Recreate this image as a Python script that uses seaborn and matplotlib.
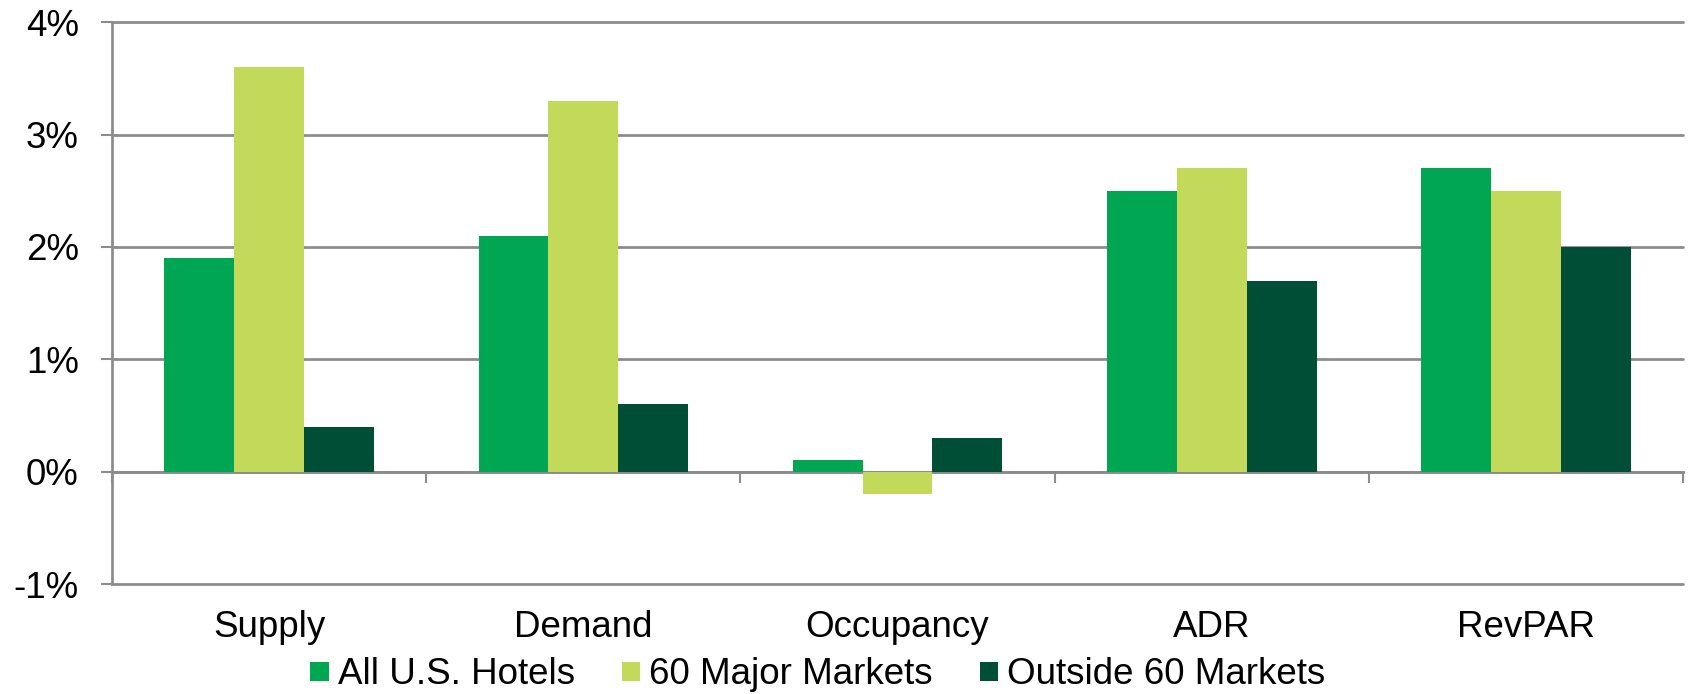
import matplotlib
matplotlib.use("Agg")
import matplotlib.pyplot as plt
import numpy as np
import pandas as pd
import seaborn as sns

# Year-over-year percent change by hotel performance metric
categories = ["Supply", "Demand", "Occupancy", "ADR", "RevPAR"]
series_names = ["All U.S. Hotels", "60 Major Markets", "Outside 60 Markets"]
all_us = [1.9, 2.1, 0.1, 2.5, 2.7]
major_60 = [3.6, 3.3, -0.2, 2.7, 2.5]
outside_60 = [0.4, 0.6, 0.3, 1.7, 2.0]
y_ticks = [-1, 0, 1, 2, 3, 4]
y_tick_labels = ["-1%", "0%", "1%", "2%", "3%", "4%"]

colors = ["#00A651", "#C2D95A", "#014E37"]
line_gray = "#8C8C8C"
font_size = 26.5

df = pd.DataFrame({
    "Metric": categories * len(series_names),
    "Series": np.repeat(series_names, len(categories)),
    "Change": all_us + major_60 + outside_60,
})

sns.set_theme(style="white")
plt.rcParams["font.family"] = ["Liberation Sans", "DejaVu Sans"]
plt.rcParams["text.color"] = "black"

fig = plt.figure(figsize=(16.9, 6.94), dpi=100)
ax = fig.add_axes([0.0663, 0.1585, 0.9296, 0.8094])

sns.barplot(
    data=df, x="Metric", y="Change", hue="Series",
    order=categories, hue_order=series_names,
    palette=colors, saturation=1, width=0.667, linewidth=0,
    errorbar=None, ax=ax,
)

handles, labels = ax.get_legend_handles_labels()
ax.get_legend().remove()

ax.set_xlim(-0.5, len(categories) - 0.5)
ax.set_ylim(y_ticks[0], y_ticks[-1])
ax.set_yticks(y_ticks, y_tick_labels)
ax.set_xlabel("")
ax.set_ylabel("")

# Horizontal gridlines behind the bars
ax.set_axisbelow(True)
ax.yaxis.grid(True, color=line_gray, linewidth=2)
for gl in ax.get_ygridlines():
    gl.set_clip_on(False)

for side in ["top", "right", "bottom"]:
    ax.spines[side].set_visible(False)
ax.spines["left"].set_color(line_gray)
ax.spines["left"].set_linewidth(2)

ax.tick_params(axis="y", left=True, length=8, width=1.5, color=line_gray,
               pad=16, labelsize=font_size, labelcolor="black")
ax.tick_params(axis="x", bottom=False, length=0, pad=19,
               labelsize=font_size, labelcolor="black")

# Category axis crossing at zero, with ticks between the groups
zero_frac = (0 - y_ticks[0]) / (y_ticks[-1] - y_ticks[0])
sec = ax.secondary_xaxis(zero_frac)
bounds = np.arange(len(categories) + 1) - 0.5
sec.set_xticks(bounds, [""] * len(bounds))
sec.tick_params(axis="x", length=8, width=1.5, color=line_gray, direction="out")
sec.spines["bottom"].set_color(line_gray)
sec.spines["bottom"].set_linewidth(2)

fig.legend(
    handles, labels, loc="center", bbox_to_anchor=(818 / 1690, 1 - 675 / 694),
    ncol=3, frameon=False, fontsize=font_size,
    handlelength=0.50, handleheight=0.40, handletextpad=0.245,
    columnspacing=1.28, borderpad=0, borderaxespad=0,
)

fig.savefig("out.png", dpi=100)
